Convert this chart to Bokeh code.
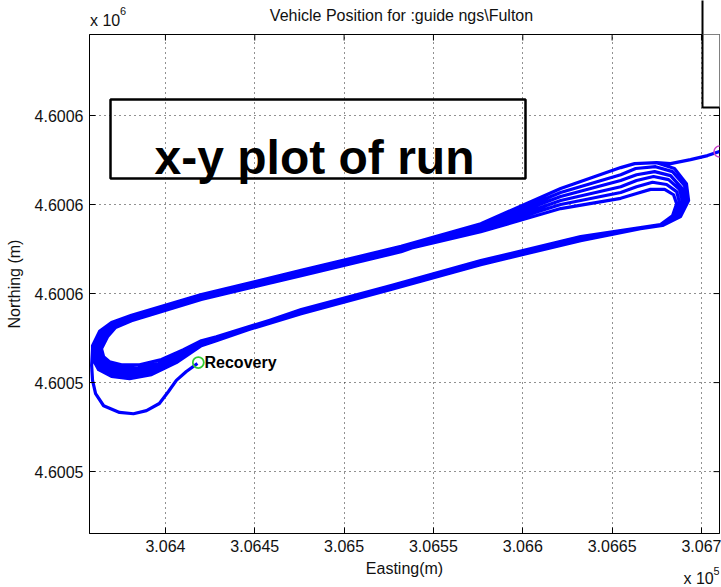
from bokeh.plotting import figure
from bokeh.layouts import column
from bokeh.models import Range1d, FixedTicker, Label, BoxAnnotation
from bokeh.embed import file_html
from bokeh.resources import INLINE

# ---------------- data (Easting / Northing in metres) ----------------
entry_e = [306710.1, 306703.4, 306693.9, 306682.7, 306674.9]
entry_n = [4600591.9, 4600591.0, 4600590.1, 4600589.2, 4600589.4]

laps_e = [
    306662.6, 306654.8, 306621.2, 306576.5, 306531.9, 306476.0, 306420.1, 306381.0,
    306369.8, 306363.1, 306359.2, 306359.2, 306362.6, 306369.8, 306379.9, 306392.2, 306406.1, 306420.1,
    306428.5, 306476.0, 306526.3, 306576.5, 306632.4, 306665.9,
    306678.2, 306687.2, 306690.5, 306688.8, 306682.7, 306673.8, 306663.7, 306654.8, 306621.2, 306576.5,
    306531.9, 306476.0, 306420.1, 306381.0,
    306371.0, 306365.4, 306362.0, 306362.6, 306365.9, 306373.2, 306383.2, 306395.0, 306407.8, 306420.1,
    306428.5, 306476.0, 306526.3, 306576.5, 306632.4, 306665.9,
    306677.1, 306684.9, 306687.7, 306686.1, 306680.5, 306672.6, 306663.7, 306654.8, 306621.2, 306576.5,
    306531.9, 306476.0, 306420.1, 306381.0,
    306369.8, 306363.7, 306359.8, 306360.3, 306363.7, 306371.0, 306381.0, 306393.3, 306406.7, 306420.1,
    306428.5, 306476.0, 306526.3, 306576.5, 306632.4, 306665.9,
    306678.2, 306688.3, 306692.8, 306691.6, 306684.9, 306674.9, 306662.6, 306654.8, 306621.2, 306576.5,
    306531.9, 306476.0, 306420.1, 306381.0,
    306372.1, 306367.6, 306364.2, 306365.4, 306368.7, 306375.4, 306385.5, 306397.8, 306410.1, 306420.1,
    306428.5, 306476.0, 306526.3, 306576.5, 306632.4, 306665.9,
    306677.7, 306686.1, 306689.4, 306687.7, 306681.6, 306673.2, 306663.7, 306654.8, 306621.2, 306576.5,
    306531.9, 306476.0, 306420.1, 306381.0,
    306370.4, 306364.2, 306360.9, 306361.5, 306364.8, 306372.1, 306382.1, 306394.4, 306407.3, 306420.1,
    306428.5, 306476.0, 306526.3, 306576.5, 306632.4, 306665.9,
    306676.6, 306683.8, 306686.1, 306684.4, 306679.4, 306671.5, 306663.7, 306654.8, 306621.2, 306576.5,
    306531.9, 306476.0, 306420.1, 306381.0,
    306371.5, 306366.5, 306363.1, 306363.7, 306367.0, 306374.3, 306384.4, 306396.1, 306408.9, 306420.1,
    306428.5, 306476.0, 306526.3, 306576.5, 306632.4, 306665.9,
    306678.2, 306687.7, 306691.6, 306690.5, 306683.8, 306674.3, 306663.2, 306654.8, 306621.2, 306576.5,
    306531.9, 306476.0, 306420.1, 306381.0,
]
laps_n = [
    4600589.2, 4600588.3, 4600583.6, 4600575.7, 4600570.6, 4600565.2, 4600559.8, 4600555.1,
    4600553.5, 4600551.5, 4600548.3, 4600545.4, 4600542.9, 4600541.4, 4600540.9, 4600541.8, 4600544.5, 4600548.3,
    4600549.4, 4600556.0, 4600561.4, 4600567.0, 4600572.4, 4600574.8,
    4600575.5, 4600577.8, 4600580.9, 4600583.8, 4600586.5, 4600587.4, 4600586.7, 4600585.4, 4600581.8, 4600575.1,
    4600569.9, 4600564.5, 4600559.1, 4600554.4,
    4600552.8, 4600550.8, 4600547.9, 4600545.6, 4600544.0, 4600542.9, 4600542.7, 4600543.6, 4600546.1, 4600549.0,
    4600549.9, 4600556.4, 4600561.8, 4600567.4, 4600572.8, 4600574.8,
    4600575.5, 4600577.8, 4600580.5, 4600582.9, 4600584.5, 4600585.0, 4600584.0, 4600582.7, 4600580.0, 4600574.4,
    4600570.3, 4600564.9, 4600559.6, 4600554.8,
    4600553.3, 4600551.2, 4600548.1, 4600545.4, 4600543.2, 4600541.8, 4600541.6, 4600542.5, 4600544.9, 4600548.5,
    4600549.7, 4600555.5, 4600560.9, 4600566.5, 4600571.9, 4600574.6,
    4600575.3, 4600577.3, 4600580.9, 4600584.7, 4600588.1, 4600589.4, 4600589.2, 4600588.3, 4600583.6, 4600575.7,
    4600569.4, 4600564.0, 4600558.7, 4600553.9,
    4600552.4, 4600550.3, 4600547.6, 4600545.8, 4600544.7, 4600544.0, 4600544.0, 4600545.2, 4600547.4, 4600549.4,
    4600550.3, 4600556.2, 4600561.6, 4600567.2, 4600572.6, 4600574.8,
    4600575.5, 4600577.8, 4600580.7, 4600583.4, 4600585.6, 4600586.3, 4600585.4, 4600584.0, 4600580.9, 4600574.6,
    4600570.1, 4600564.7, 4600559.3, 4600554.6,
    4600553.0, 4600551.0, 4600548.1, 4600545.6, 4600543.6, 4600542.3, 4600542.0, 4600543.2, 4600545.6, 4600548.8,
    4600549.9, 4600555.7, 4600561.1, 4600566.7, 4600572.1, 4600574.6,
    4600575.3, 4600577.5, 4600580.2, 4600582.2, 4600583.4, 4600583.4, 4600582.5, 4600581.4, 4600579.1, 4600573.9,
    4600569.7, 4600564.3, 4600558.9, 4600554.2,
    4600552.6, 4600550.6, 4600547.9, 4600545.8, 4600544.5, 4600543.4, 4600543.2, 4600544.3, 4600546.7, 4600549.2,
    4600550.1, 4600556.0, 4600561.4, 4600567.0, 4600572.4, 4600574.8,
    4600575.3, 4600577.5, 4600580.9, 4600584.3, 4600587.4, 4600588.5, 4600588.1, 4600586.7, 4600582.7, 4600575.3,
    4600570.1, 4600564.7, 4600559.3, 4600554.6,
]

exit_e = [306369.8, 306363.1, 306359.2, 306358.7, 306359.2, 306360.9, 306365.4, 306374.3,
          306382.1, 306389.4, 306396.6, 306401.7, 306406.1, 306411.7, 306417.9]
exit_n = [4600553.0, 4600551.0, 4600547.6, 4600543.8, 4600540.5, 4600537.5, 4600534.8, 4600533.3,
          4600533.0, 4600533.7, 4600535.3, 4600538.0, 4600540.5, 4600542.5, 4600544.3]

start_e, start_n = [306710.1], [4600591.9]
recovery_e, recovery_n = [306418.4], [4600544.5]

x_ticks = [306400, 306450, 306500, 306550, 306600, 306650, 306700]
x_tick_labels = ["3.064", "3.0645", "3.065", "3.0655", "3.066", "3.0665", "3.067"]
y_ticks = [4600520, 4600540, 4600560, 4600580, 4600600]
y_tick_labels = ["4.6005", "4.6005", "4.6006", "4.6006", "4.6006"]

title_text = "Vehicle Position for :guide ngs\\Fulton"
note_text = "x-y plot of run"
recovery_text = "Recovery"
x_label = "Easting(m)"
y_label = "Northing (m)"

# ---------------- layout (overall page pixels) ----------------
W, H = 721, 587
HEAD_H = 34          # strip above the axes (title, exponent)
FOOT_TOP = 560       # strip below the tick labels (axis label, exponent)
FL, FT, FR, FB = 89, 34, 719, 533
X0, X1 = 306357.5, 306710.1
Y0, Y1 = 4600506.1, 4600618.2
FONT = "Liberation Sans"
TXT = "#111111"
FS = "16px"


def sx(px):
    return X0 + (px - FL) * (X1 - X0) / (FR - FL)


def sy(py):
    return Y1 - (py - FT) * (Y1 - Y0) / (FB - FT)


def strip(height, top):
    # frame aligned with the main axes frame horizontally; data units = page pixels
    f = figure(width=W, height=height, x_range=Range1d(FL, FR), y_range=Range1d(top + height, top),
               output_backend="svg", toolbar_location=None, title=None,
               x_axis_type=None, y_axis_type=None,
               min_border_left=FL, min_border_right=W - FR, min_border_top=0, min_border_bottom=0)
    f.outline_line_color = None
    f.background_fill_color = "white"
    f.border_fill_color = "white"
    f.grid.visible = False
    return f


# ---------- head strip ----------
head = strip(HEAD_H, 0)
head.add_layout(Label(x=401, y=15, text=title_text, text_align="center", text_baseline="middle",
                      text_font=FONT, text_font_size=FS, text_color=TXT))
head.add_layout(Label(x=89.5, y=20, text="x 10", text_baseline="middle",
                      text_font=FONT, text_font_size=FS, text_color=TXT))
head.add_layout(Label(x=119.5, y=10, text="6", text_baseline="middle",
                      text_font=FONT, text_font_size="11px", text_color=TXT))
head.add_layout(BoxAnnotation(left=702, right=760, top=-10, bottom=60, fill_color="white",
                              fill_alpha=1, line_color="black", line_alpha=1, line_width=2))

# ---------- main axes ----------
p = figure(width=W, height=FOOT_TOP - HEAD_H, x_range=Range1d(X0, X1), y_range=Range1d(Y0, Y1),
           output_backend="svg", toolbar_location=None, title=None,
           min_border_left=FL, min_border_right=W - FR, min_border_top=0,
           min_border_bottom=FOOT_TOP - FB)
p.background_fill_color = "white"
p.border_fill_color = "white"
p.outline_line_color = "black"
p.outline_line_width = 1

for ax, ticks, labels in ((p.xaxis[0], x_ticks, x_tick_labels), (p.yaxis[0], y_ticks, y_tick_labels)):
    ax.ticker = FixedTicker(ticks=ticks)
    ax.major_label_overrides = {t: l for t, l in zip(ticks, labels)}
    ax.major_tick_in = 6
    ax.major_tick_out = 0
    ax.minor_tick_line_color = None
    ax.axis_line_color = "black"
    ax.major_tick_line_color = "black"
    ax.major_label_text_font = FONT
    ax.major_label_text_font_size = FS
    ax.major_label_text_color = TXT
    ax.major_label_standoff = 6
    ax.axis_label_text_font = FONT
    ax.axis_label_text_font_size = FS
    ax.axis_label_text_font_style = "normal"
    ax.axis_label_text_color = TXT

p.yaxis.axis_label = y_label
p.yaxis.axis_label_standoff = 9

p.xgrid.ticker = FixedTicker(ticks=x_ticks)
p.ygrid.ticker = FixedTicker(ticks=y_ticks)
p.grid.grid_line_color = "#222222"
p.grid.grid_line_dash = "1 4"
p.grid.grid_line_width = 1

# inward tick marks on the top and right sides of the box
tick_y = 6 * (Y1 - Y0) / (FB - FT)
tick_x = 6 * (X1 - X0) / (FR - FL)
p.segment(x0=x_ticks, y0=[Y1] * len(x_ticks), x1=x_ticks, y1=[Y1 - tick_y] * len(x_ticks),
          line_color="black", line_width=1)
p.segment(x0=[X1] * len(y_ticks), y0=y_ticks, x1=[X1 - tick_x] * len(y_ticks), y1=y_ticks,
          line_color="black", line_width=1)

# trajectory
track_e = entry_e + laps_e + exit_e
track_n = entry_n + laps_n + exit_n
p.line(track_e, track_n, line_color="#0000ff", line_width=3.2, line_join="round")

p.scatter(start_e, start_n, marker="circle", size=11, fill_color=None,
          line_color="#cc44cc", line_width=1.5)
p.scatter(recovery_e, recovery_n, marker="circle", size=11, fill_color=None,
          line_color="#33cc33", line_width=1.8)

p.add_layout(Label(x=sx(204), y=sy(362), text=recovery_text, text_baseline="middle",
                   text_font=FONT, text_font_style="bold", text_font_size="16px",
                   text_color="black"))

# annotation box with big text
p.add_layout(BoxAnnotation(left=sx(110), right=sx(525), top=sy(99), bottom=sy(178),
                           fill_color=None, line_color="black", line_alpha=1, line_width=2.5))
p.add_layout(Label(x=sx(314), y=sy(157), text=note_text, text_align="center",
                   text_baseline="alphabetic", text_font=FONT, text_font_style="bold",
                   text_font_size="48px", text_color="black"))

# partial box at the top-right corner (continues from the head strip)
p.add_layout(BoxAnnotation(left=sx(702), right=sx(760), top=sy(-20), bottom=sy(107),
                           fill_color="white", fill_alpha=1, line_color="black",
                           line_alpha=1, line_width=2))

# ---------- foot strip ----------
foot = strip(H - FOOT_TOP, FOOT_TOP)
foot.add_layout(Label(x=404, y=568, text=x_label, text_align="center", text_baseline="middle",
                      text_font=FONT, text_font_size=FS, text_color=TXT))
foot.add_layout(Label(x=683, y=578, text="x 10", text_baseline="middle",
                      text_font=FONT, text_font_size=FS, text_color=TXT))
foot.add_layout(Label(x=713, y=570, text="5", text_baseline="middle",
                      text_font=FONT, text_font_size="11px", text_color=TXT))

layout = column(head, p, foot, spacing=0)
open("out.html", "w").write(file_html(layout, INLINE))
